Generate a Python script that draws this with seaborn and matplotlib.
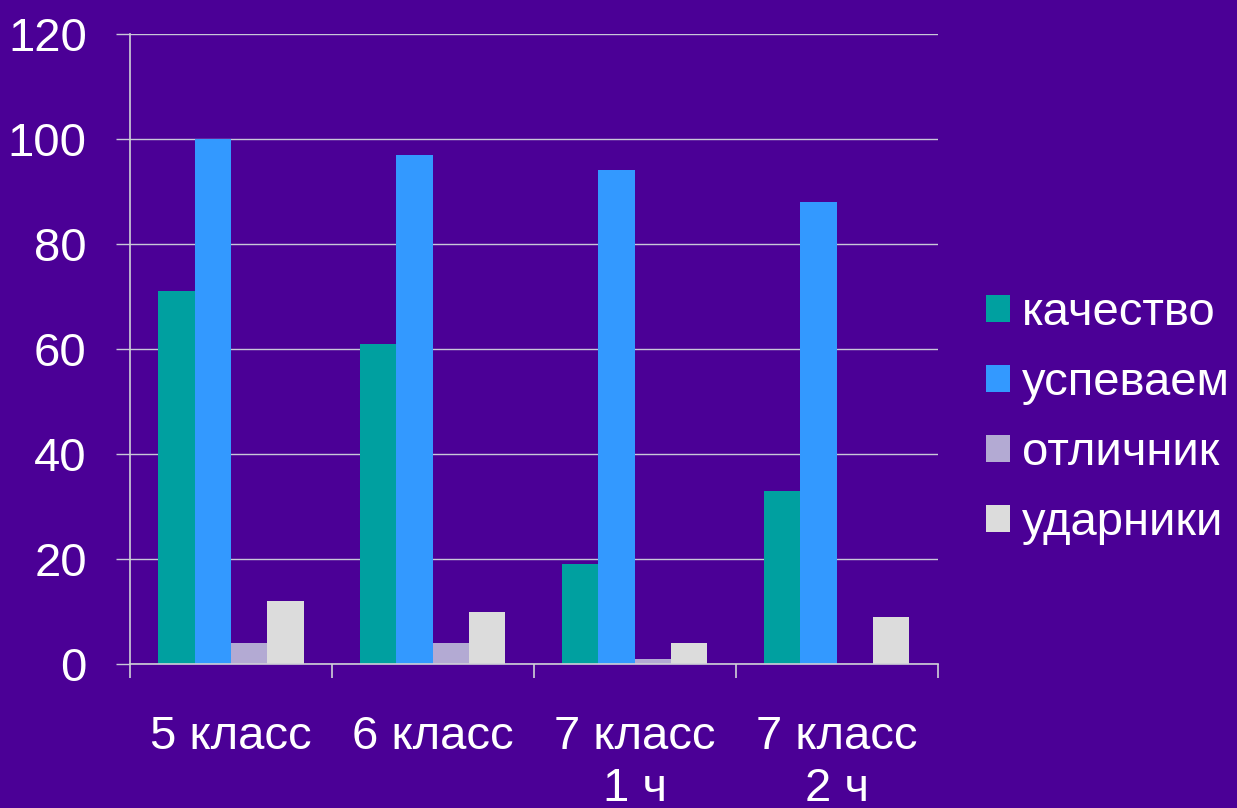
import pandas as pd
import numpy as np
import seaborn as sns
import matplotlib.pyplot as plt

categories = ['5 класс', '6 класс', '7 класс\n1 ч', '7 класс\n2 ч']
series = ['качество', 'успеваем', 'отличник', 'ударники']
kachestvo = [71, 61, 19, 33]
uspevaem = [100, 97, 94, 88]
otlichnik = [4, 4, 1, 0]
udarniki = [12, 10, 4, 9]

colors = ['#00A0A0', '#3399FF', '#B3AAD3', '#DCDCDC']
bg = '#4B0096'

df = pd.DataFrame({'класс': categories * 4,
                   'серия': np.repeat(series, 4),
                   'значение': kachestvo + uspevaem + otlichnik + udarniki})

sns.set_style('white')
plt.rcParams['font.family'] = ['Liberation Sans', 'DejaVu Sans']

fig = plt.figure(figsize=(12.37, 8.08), dpi=100, facecolor=bg)
ax = fig.add_axes([0.105, 0.178, 0.653, 0.780])
ax.set_facecolor(bg)

sns.barplot(data=df, x='класс', y='значение', hue='серия', order=categories,
            hue_order=series, palette=colors, width=0.72, saturation=1,
            linewidth=0, ax=ax)

ax.set_ylim(0, 120)
ax.set_xlim(-0.5, 3.5)
ax.set_yticks(range(0, 121, 20))
ax.yaxis.grid(True, color='#C8C8D8', linewidth=1)
ax.set_axisbelow(True)
for s in ['top', 'right']:
    ax.spines[s].set_visible(False)
for s in ['left', 'bottom']:
    ax.spines[s].set_color('#D0D0D8')
    ax.spines[s].set_linewidth(1.2)

# ticks at group boundaries, labels at group centres
ax.set_xticks(np.arange(-0.5, 4, 1))
ax.set_xticklabels([])
ax.set_xticks(range(len(categories)), minor=True)
ax.set_xticklabels(categories, minor=True, fontsize=34, color='white', linespacing=1.25)
ax.tick_params(axis='x', which='major', bottom=True, length=10, color='#D0D0D8', width=1.2)
ax.tick_params(axis='x', which='minor', bottom=True, length=0, pad=36.5)
ax.tick_params(axis='y', left=True, length=10, color='#C8C8D8', width=1, labelsize=34,
               labelcolor='white', pad=21)
ax.set_xlabel('')
ax.set_ylabel('')

leg = ax.legend(loc='center left', bbox_to_anchor=(1.06, 0.39), frameon=False,
                fontsize=34, handlelength=0.5, handleheight=0.5, handletextpad=0.25,
                labelspacing=0.55, borderaxespad=0, borderpad=0)
for t in leg.get_texts():
    t.set_color('white')

fig.savefig('out.png', dpi=100, facecolor=bg)
